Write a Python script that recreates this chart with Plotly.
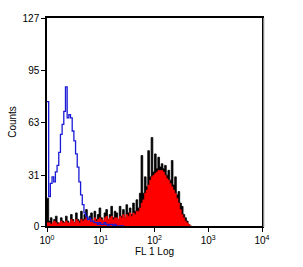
import plotly.graph_objects as go

# channel resolution: 32 channels per decade, 4 decades
CH_PER_DECADE = 32

blue_counts = [76, 18, 26, 30, 27, 33, 37, 45, 56, 62,
               70, 85, 66, 68, 66, 58, 52, 44, 36, 27,
               19, 13, 8, 6, 4, 5, 3, 3, 2, 2,
               1, 2, 1, 1, 2, 1, 0, 1, 1, 0,
               1, 0, 0, 0, 0, 0]

black_counts = [17, 3, 5, 1, 4, 6, 2, 1, 5, 3, 2,
                6, 3, 1, 7, 4, 2, 8, 4, 3, 9,
                4, 7, 10, 3, 6, 8, 2, 9, 4, 7,
                11, 5, 3, 8, 10, 4, 7, 12, 5, 9,
                8, 4, 12, 6, 10, 5, 13, 8, 11, 7,
                14, 9, 16, 11, 20,
                43, 20, 30, 24, 46,
                30, 54, 33, 44, 35,
                42, 36, 38, 35, 37,
                31, 34, 28, 40, 25,
                30, 19, 21, 14, 12,
                7, 5, 3, 1, 0]

red_counts = [2, 2, 1, 2, 3, 2, 1, 2, 3, 2, 2,
              3, 2, 2, 4, 3, 2, 4, 3, 2, 4,
              3, 4, 5, 3, 4, 4, 2, 5, 3, 4,
              5, 4, 3, 5, 6, 4, 5, 6, 4, 5,
              5, 4, 6, 5, 7, 5, 7, 6, 8, 6,
              8, 7, 9, 9, 11,
              14, 16, 20, 22, 25,
              28, 30, 31, 32, 33,
              34, 34, 34, 33, 31,
              29, 28, 26, 24, 22,
              20, 17, 14, 10, 7,
              5, 3, 2, 1, 0]

y_ticks = [0, 31, 63, 95, 127]
x_tick_vals = [1, 10, 100, 1000, 10000]
x_tick_text = ["10<sup>0</sup>", "10<sup>1</sup>", "10<sup>2</sup>", "10<sup>3</sup>", "10<sup>4</sup>"]


def channels(counts):
    xs = [10 ** (i / CH_PER_DECADE) for i in range(len(counts) + 1)]
    ys = list(counts) + [counts[-1]]
    return xs, ys


fig = go.Figure()
bx, by = channels(black_counts)
fig.add_trace(go.Scatter(x=bx, y=by, mode="lines", line=dict(color="black", width=0.8, shape="hv"),
                         fill="tozeroy", fillcolor="black", hoverinfo="skip"))
rx, ry = channels(red_counts)
fig.add_trace(go.Scatter(x=rx, y=ry, mode="lines", line=dict(color="#ff0000", width=0.5, shape="hv"),
                         fill="tozeroy", fillcolor="#ff0000", hoverinfo="skip"))
ux, uy = channels(blue_counts)
fig.add_trace(go.Scatter(x=ux, y=uy, mode="lines", line=dict(color="#1a1ad6", width=1.3, shape="hv"),
                         hoverinfo="skip"))

font = dict(family="Liberation Sans, Arial, sans-serif", size=10, color="black")

fig.update_layout(
    width=303, height=267,
    margin=dict(l=45, r=41, t=16, b=37),
    paper_bgcolor="white", plot_bgcolor="white",
    showlegend=False,
    font=font,
    xaxis=dict(type="log", range=[0, 4], tickvals=x_tick_vals, ticktext=x_tick_text,
               showgrid=False, zeroline=False, showline=True, linecolor="black", linewidth=1.5,
               mirror=True, ticks="outside", ticklen=4, tickcolor="black",
               title=dict(text="FL 1 Log", font=dict(size=10), standoff=2)),
    yaxis=dict(range=[0, 127], tickvals=y_ticks, showgrid=False, zeroline=False,
               showline=True, linecolor="black", linewidth=1.5, mirror=True,
               ticks="outside", ticklen=4, tickcolor="black",
               title=dict(text="Counts", font=dict(size=10), standoff=4)),
    shapes=[dict(type="line", xref="paper", yref="paper", x0=1.008, x1=1.008, y0=-0.005, y1=1.0,
                 line=dict(color="#999999", width=1.2))],
)

fig.write_html("out.html")
